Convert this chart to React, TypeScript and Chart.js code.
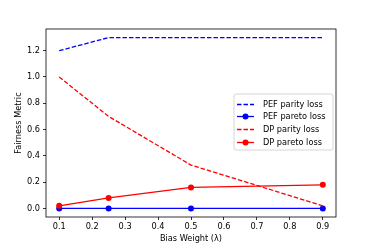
import React, { useEffect, useRef } from "react";
import { Chart, registerables } from "chart.js";

Chart.register(...registerables);

const biasWeights = [0.1, 0.25, 0.5, 0.9];
const pefParity = [1.2, 1.3, 1.3, 1.3];
const pefPareto = [0.0, 0.0, 0.0, 0.0];
const dpParity = [1.0, 0.7, 0.33, 0.02];
const dpPareto = [0.02, 0.08, 0.16, 0.18];
const xTicks = [0.1, 0.2, 0.3, 0.4, 0.5, 0.6, 0.7, 0.8, 0.9];
const yTicks = [0.0, 0.2, 0.4, 0.6, 0.8, 1.0, 1.2];
const seriesLabels = ["PEF parity loss", "PEF pareto loss", "DP parity loss", "DP pareto loss"];

const FONT = "'DejaVu Sans', sans-serif";
const FS = 8.2;

export default function App() {
  const ref = useRef<HTMLCanvasElement>(null);
  useEffect(() => {
    document.body.style.margin = "0";
    const canvas = ref.current;
    if (!canvas) return;
    const toPts = (ys: number[]) => biasWeights.map((x, i) => ({ x, y: ys[i] }));
    const mk = (label: string, ys: number[], color: string, dashed: boolean, order: number) => ({
      label,
      data: toPts(ys),
      borderColor: color,
      backgroundColor: color,
      borderWidth: 1.3,
      borderDash: dashed ? [4.5, 2] : [],
      pointRadius: dashed ? 0 : 3,
      pointBorderWidth: 0,
      pointBackgroundColor: color,
      fill: false,
      tension: 0,
      order,
    });
    const frame = {
      id: "frame",
      afterDatasetsDraw(chart: any) {
        const { ctx, chartArea: a } = chart;
        ctx.save();
        ctx.strokeStyle = "#000";
        ctx.lineWidth = 0.8;
        ctx.strokeRect(a.left, a.top, a.right - a.left, a.bottom - a.top);
        ctx.restore();
      },
    };
    const legend = {
      id: "mplLegend",
      afterDraw(chart: any) {
        const { ctx, chartArea: a } = chart;
        const w = 99, h = 56;
        const x0 = a.right - 3 - w;
        const y0 = (a.top + a.bottom) / 2 - h / 2 - 1;
        ctx.save();
        ctx.beginPath();
        (ctx as any).roundRect(x0, y0, w, h, 2);
        ctx.fillStyle = "rgba(255,255,255,0.8)";
        ctx.fill();
        ctx.strokeStyle = "#cccccc";
        ctx.lineWidth = 0.8;
        ctx.stroke();
        ctx.font = `${FS}px ${FONT}`;
        ctx.textBaseline = "middle";
        ctx.textAlign = "left";
        chart.data.datasets.forEach((ds: any, i: number) => {
          const y = Math.round(y0 + 9.5 + i * 12.7) + 0.5;
          ctx.strokeStyle = ds.borderColor;
          ctx.lineWidth = 1.3;
          ctx.setLineDash(ds.borderDash);
          ctx.beginPath();
          ctx.moveTo(x0 + 3, y);
          ctx.lineTo(x0 + 20, y);
          ctx.stroke();
          ctx.setLineDash([]);
          if (ds.pointRadius > 0) {
            ctx.fillStyle = ds.borderColor;
            ctx.beginPath();
            ctx.arc(x0 + 11.5, y, ds.pointRadius, 0, Math.PI * 2);
            ctx.fill();
          }
          ctx.fillStyle = "#000";
          ctx.fillText(ds.label, x0 + 29, y);
        });
        ctx.restore();
      },
    };
    const chart = new Chart(canvas, {
      type: "line",
      data: {
        datasets: [
          mk(seriesLabels[0], pefParity, "#0000ff", true, 4),
          mk(seriesLabels[1], pefPareto, "#0000ff", false, 3),
          mk(seriesLabels[2], dpParity, "#ff0000", true, 2),
          mk(seriesLabels[3], dpPareto, "#ff0000", false, 1),
        ] as any,
      },
      options: {
        animation: false,
        responsive: false,
        devicePixelRatio: 1,
        layout: { padding: { top: 29, right: 38, left: 0, bottom: 0 } },
        plugins: { legend: { display: false }, tooltip: { enabled: false } },
        scales: {
          x: {
            type: "linear",
            min: 0.06,
            max: 0.94,
            afterBuildTicks: (axis: any) => {
              axis.ticks = xTicks.map((v) => ({ value: v }));
            },
            afterFit: (axis: any) => {
              axis.height = 32;
            },
            border: { display: false },
            grid: { drawOnChartArea: false, drawTicks: true, tickLength: 3, color: "#000", lineWidth: 0.8 },
            ticks: {
              color: "#000",
              padding: 2,
              maxRotation: 0,
              autoSkip: false,
              font: { family: FONT, size: FS },
              callback: (v: any) => Number(v).toFixed(1),
            },
            title: {
              display: true,
              text: "Bias Weight (λ)",
              color: "#000",
              font: { family: FONT, size: FS },
              padding: { top: 0, bottom: 5 },
            },
          },
          y: {
            type: "linear",
            min: -0.065,
            max: 1.365,
            afterBuildTicks: (axis: any) => {
              axis.ticks = yTicks.map((v) => ({ value: v }));
            },
            afterFit: (axis: any) => {
              axis.width = 46;
            },
            border: { display: false },
            grid: { drawOnChartArea: false, drawTicks: true, tickLength: 3, color: "#000", lineWidth: 0.8 },
            ticks: {
              color: "#000",
              padding: 3,
              autoSkip: false,
              font: { family: FONT, size: FS },
              callback: (v: any) => Number(v).toFixed(1),
            },
            title: {
              display: true,
              text: "Fairness Metric",
              color: "#000",
              font: { family: FONT, size: FS },
              padding: { top: 14, bottom: 0 },
            },
          },
        },
      },
      plugins: [frame, legend],
    });
    return () => chart.destroy();
  }, []);
  return <canvas ref={ref} width={374} height={249} style={{ display: "block", width: 374, height: 249 }} />;
}
